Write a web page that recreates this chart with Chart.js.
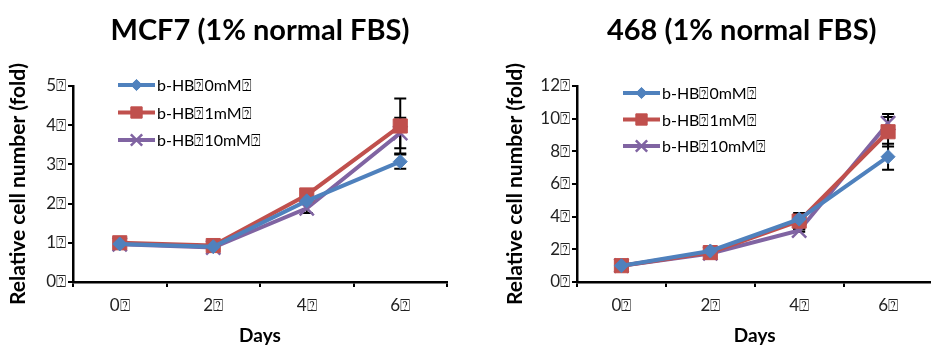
<!DOCTYPE html>
<html>
<head>
<meta charset="utf-8">
<script src="https://cdn.jsdelivr.net/npm/chart.js@4.4.1/dist/chart.umd.min.js"></script>
<style>
  html, body { margin: 0; padding: 0; background: #fff; overflow: hidden; width: 931px; height: 347px; }
  .panel { position: absolute; top: 0; }
</style>
</head>
<body>
<div class="panel" style="left:0;width:465px;height:347px"><canvas id="mcf7" width="465" height="347"></canvas></div>
<div class="panel" style="left:465px;width:480px;height:347px"><canvas id="mda468" width="480" height="347"></canvas></div>
<script>
// data
const days = ['0\u2370', '2\u2370', '4\u2370', '6\u2370'];
const seriesNames = ['b-HB\u23700mM\u2370', 'b-HB\u23701mM\u2370', 'b-HB\u237010mM\u2370'];

const mcf7_0mM = [0.97, 0.90, 2.07, 3.07];
const mcf7_1mM = [1.00, 0.93, 2.22, 3.98];
const mcf7_10mM = [0.96, 0.88, 1.88, 3.80];
const mcf7Err_0mM = [0, 0, 0.05, 0.18];
const mcf7Err_1mM = [0, 0, 0.05, 0.70];
const mcf7Err_10mM = [0, 0, 0.12, 0.39];

const mda_0mM = [1.00, 1.90, 3.85, 7.67];
const mda_1mM = [1.00, 1.80, 3.73, 9.20];
const mda_10mM = [1.00, 1.75, 3.15, 9.72];
const mdaErr_0mM = [0, 0, 0.2, 0.80];
const mdaErr_1mM = [0, 0, 0.5, 0.90];
const mdaErr_10mM = [0, 0, 0.08, 0.57];

const blue = '#4F81BD', red = '#C0504D', purple = '#8064A2';

// error bars go under the markers
const errorBars = {
  id: 'errorBars',
  beforeDatasetsDraw(chart) {
    const { ctx, scales: { x, y } } = chart;
    ctx.save();
    ctx.strokeStyle = '#000';
    ctx.lineWidth = 2;
    chart.data.datasets.forEach((ds) => {
      (ds.errors || []).forEach((e, i) => {
        if (!e) return;
        const px = x.getPixelForValue(i);
        const top = y.getPixelForValue(ds.data[i] + e);
        const bot = y.getPixelForValue(ds.data[i] - e);
        ctx.beginPath();
        ctx.moveTo(px, top); ctx.lineTo(px, bot);
        ctx.moveTo(px - 6, top); ctx.lineTo(px + 6, top);
        ctx.moveTo(px - 6, bot); ctx.lineTo(px + 6, bot);
        ctx.stroke();
      });
    });
    ctx.restore();
  }
};

// excel style legend: line sample with marker, sitting inside the plot
const lineLegend = {
  id: 'lineLegend',
  afterDraw(chart, args, opts) {
    const { ctx, chartArea } = chart;
    chart.data.datasets.forEach((ds, i) => {
      const x0 = chartArea.left + opts.x;
      const y0 = chartArea.top + opts.y + i * opts.gap;
      ctx.save();
      ctx.strokeStyle = ds.borderColor;
      ctx.lineWidth = ds.borderWidth;
      ctx.beginPath();
      ctx.moveTo(x0, y0); ctx.lineTo(x0 + 37, y0);
      ctx.stroke();
      ctx.fillStyle = ds.pointBackgroundColor;
      ctx.strokeStyle = ds.pointBorderColor;
      ctx.lineWidth = ds.pointBorderWidth;
      Chart.helpers.drawPoint(ctx, {
        pointStyle: ds.pointStyle,
        radius: ds.pointRadius * 0.8,
        borderWidth: ds.pointBorderWidth,
        rotation: 0
      }, x0 + 18.5, y0);
      ctx.fillStyle = '#000';
      ctx.font = '16px Lato';
      ctx.textBaseline = 'middle';
      ctx.textAlign = 'left';
      ctx.fillText(ds.label, x0 + 39, y0 + 1);
      ctx.restore();
    });
  }
};

const panelTitle = {
  id: 'panelTitle',
  afterDraw(chart, args, opts) {
    const { ctx, chartArea } = chart;
    ctx.save();
    ctx.font = 'bold 29px Lato';
    ctx.fillStyle = '#000';
    ctx.textAlign = 'center';
    ctx.textBaseline = 'middle';
    ctx.fillText(opts.text, (chartArea.left + chartArea.right) / 2 + opts.shift, opts.y);
    ctx.restore();
  }
};

function makeSeries(label, data, errors, color, style, radius) {
  return {
    label, data, errors,
    borderColor: color,
    backgroundColor: color,
    borderWidth: 4,
    pointStyle: style,
    pointRadius: radius,
    pointBackgroundColor: color,
    pointBorderColor: color,
    pointBorderWidth: style === 'crossRot' ? 2.5 : 1,
    tension: 0
  };
}

function makeChart(id, title, sets, yMax, yStep, yWidth, padRight, yTitlePad, legendPos, titleShift) {
  return new Chart(document.getElementById(id), {
    type: 'line',
    data: { labels: days, datasets: sets },
    plugins: [errorBars, lineLegend, panelTitle],
    options: {
      responsive: false,
      animation: false,
      devicePixelRatio: 1,
      layout: { padding: { top: 86, right: padRight, left: 0, bottom: 0 } },
      plugins: {
        legend: { display: false },
        tooltip: { enabled: false },
        lineLegend: legendPos,
        panelTitle: { text: title, y: 31, shift: titleShift }
      },
      scales: {
        x: {
          type: 'category',
          offset: true,
          grid: { offset: true, drawOnChartArea: false, tickLength: 5, color: '#000', lineWidth: 2 },
          border: { color: '#000', width: 2.5 },
          ticks: { color: '#222', font: { family: 'Lato', size: 17 }, padding: 8 },
          title: { display: true, text: 'Days', color: '#000', font: { family: 'Lato', size: 19, weight: 'bold' }, padding: { top: 0, bottom: 0 } },
          afterFit(s) { s.height = 65; }
        },
        y: {
          min: 0, max: yMax,
          grid: { drawOnChartArea: false, tickLength: 5, color: '#000', lineWidth: 2 },
          border: { color: '#000', width: 2.5 },
          ticks: { stepSize: yStep, color: '#222', font: { family: 'Lato', size: 17 }, padding: 2, callback: (v) => v + '\u2370' },
          title: { display: true, text: 'Relative cell number (fold)', color: '#000', font: { family: 'Lato', size: 21, weight: 'bold' }, padding: { top: yTitlePad, bottom: 0 } },
          afterFit(s) { s.width = yWidth; }
        }
      }
    }
  });
}

makeChart('mcf7', 'MCF7 (1% normal FBS)', [
  makeSeries(seriesNames[0], mcf7_0mM, mcf7Err_0mM, blue, 'rectRot', 7),
  makeSeries(seriesNames[1], mcf7_1mM, mcf7Err_1mM, red, 'rect', 10),
  makeSeries(seriesNames[2], mcf7_10mM, mcf7Err_10mM, purple, 'crossRot', 10)
], 5, 1, 73, 18, 6, { x: 45, y: -1, gap: 27.5 }, 0);

makeChart('mda468', '468 (1% normal FBS)', [
  makeSeries(seriesNames[0], mda_0mM, mdaErr_0mM, blue, 'rectRot', 7),
  makeSeries(seriesNames[1], mda_1mM, mdaErr_1mM, red, 'rect', 10),
  makeSeries(seriesNames[2], mda_10mM, mdaErr_10mM, purple, 'crossRot', 10)
], 12, 2, 112, 4, 38, { x: 46, y: 7, gap: 26.5 }, -13);
</script>
</body>
</html>
